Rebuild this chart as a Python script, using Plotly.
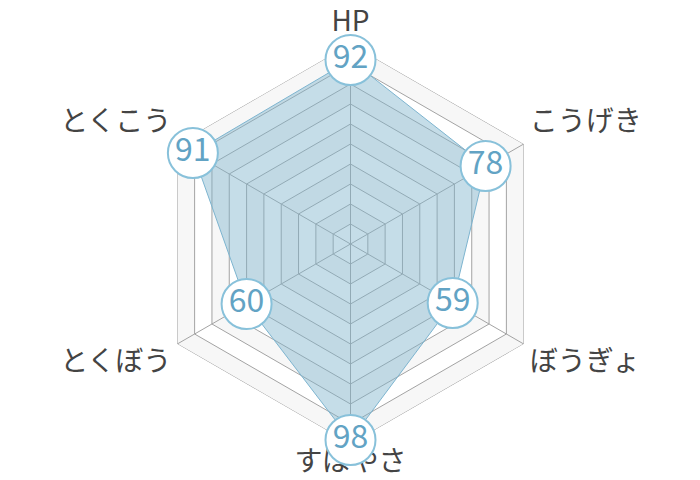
import plotly.graph_objects as go

categories = ["HP", "こうげき", "ぼうぎょ", "すばやさ", "とくぼう", "とくこう"]
stats = [92, 78, 59, 98, 60, 91]
band_levels = [100, 90, 80, 70, 60, 50, 40, 30, 20, 10]
r_max = 100

GRID = "#a3a3a3"

fig = go.Figure()

# alternating background bands (largest first), each with its ring line
for i, lv in enumerate(band_levels):
    fig.add_trace(go.Scatterpolar(
        r=[lv] * len(categories) + [lv],
        theta=categories + categories[:1],
        mode="lines",
        line=dict(width=1, color=GRID),
        fill="toself",
        fillcolor="#f7f7f7" if i % 2 == 0 else "#ffffff",
        hoverinfo="skip",
        showlegend=False,
    ))

# spokes
for cat in categories:
    fig.add_trace(go.Scatterpolar(
        r=[0, r_max], theta=[cat, cat], mode="lines",
        line=dict(width=1, color=GRID), hoverinfo="skip", showlegend=False,
    ))

# axis names just outside the outer ring
fig.add_trace(go.Scatterpolar(
    r=[r_max] * len(categories),
    theta=categories,
    mode="markers+text",
    marker=dict(size=8, opacity=0),
    text=categories,
    textposition=["top center", "top right", "bottom right",
                  "bottom center", "bottom left", "top left"],
    textfont=dict(size=28, color="#444444", family="Noto Sans CJK JP"),
    cliponaxis=False,
    hoverinfo="skip",
    showlegend=False,
))

fig.add_trace(go.Scatterpolar(
    r=stats + stats[:1],
    theta=categories + categories[:1],
    mode="lines",
    line=dict(color="#7db4cf", width=1),
    fill="toself",
    fillcolor="rgba(126,179,204,0.45)",
    showlegend=False,
))

fig.add_trace(go.Scatterpolar(
    r=stats,
    theta=categories,
    mode="markers+text",
    marker=dict(size=50, color="white", line=dict(color="#88c1da", width=2)),
    text=[str(v) for v in stats],
    textposition="middle center",
    textfont=dict(size=32, color="#62a3c4", family="Noto Sans CJK JP"),
    cliponaxis=False,
    showlegend=False,
))

fig.update_layout(
    width=700,
    height=480,
    margin=dict(l=0, r=15, t=36, b=44),
    paper_bgcolor="white",
    font=dict(family="Noto Sans CJK JP", color="#444444"),
    polar=dict(
        bgcolor="white",
        gridshape="linear",
        radialaxis=dict(
            range=[0, r_max], dtick=10, showticklabels=False, ticks="",
            showline=False, showgrid=False,
        ),
        angularaxis=dict(
            direction="clockwise", rotation=90, ticks="", showticklabels=False,
            showline=False, showgrid=False,
        ),
    ),
)

fig.write_html("out.html")
